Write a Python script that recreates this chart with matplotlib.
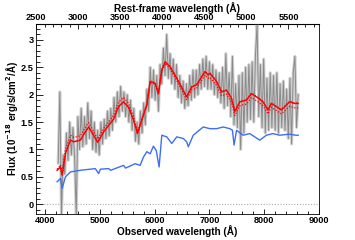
import numpy as np
import matplotlib
matplotlib.use("Agg")
import matplotlib.pyplot as plt
from matplotlib.ticker import MultipleLocator, FuncFormatter

# ---------------- data ----------------
one_plus_z = 1.535

obs_wave = np.arange(4240, 8621, 30)
obs_flux = [
    0.75, 2.05, -0.20, 0.90, 0.55, 1.30, 0.80, 1.50, 0.90, 1.40,
    0.85, -0.20, 1.60, 1.00, 1.75, 1.05, 1.60, 1.10, 1.85, 1.20,
    1.70, 1.00, 1.50, 0.95, 1.35, 0.90, 1.50, 1.10, 1.55, 1.20,
    1.70, 1.25, 1.75, 1.35, 1.95, 1.50, 2.05, 1.60, 2.15, 1.70,
    2.05, 1.60, 2.00, 1.50, 1.90, 1.35, 1.75, 1.15, 1.50, 1.10,
    1.70, 1.30, 1.85, 1.45, 2.10, 1.70, 2.50, 1.95, 2.45, 1.90,
    2.35, 1.70, 2.55, 2.20, 2.85, 2.35, 3.10, 2.30, 2.75, 2.20,
    2.65, 2.10, 2.55, 1.95, 2.35, 1.85, 2.25, 1.75, 2.20, 1.80,
    2.35, 1.90, 2.45, 1.95, 2.45, 2.00, 2.55, 2.10, 2.65, 2.15,
    2.70, 2.10, 2.60, 2.10, 2.55, 2.00, 2.45, 1.95, 2.40, 1.85,
    2.50, 1.75, 2.75, 1.80, 2.40, 1.60, 2.70, 1.45, 2.20, 1.40,
    2.35, 1.00, 2.40, 1.30, 2.50, 1.50, 2.55, 1.55, 2.60, 1.50,
    2.70, 3.30, 1.60, 2.55, 1.40, 2.65, 1.30, 2.30, 1.35, 2.40,
    1.40, 2.35, 1.35, 2.40, 1.30, 2.20, 1.40, 2.25, 1.35, 2.10,
    1.20, 2.30, 1.10, 2.40, 2.70, 1.40, 2.00,
]

model_wave = [4220, 4282, 4313, 4373, 4464, 4524, 4645, 4720, 4796, 4887,
              4960, 5069, 5160, 5250, 5340, 5433, 5524, 5615, 5687, 5767,
              5858, 5918, 6009, 6069, 6131, 6191, 6282, 6404, 6585, 6676,
              6767, 6918, 6978, 7009, 7131, 7222, 7313, 7404, 7464, 7555,
              7676, 7767, 7858, 7978, 8069, 8131, 8222, 8313, 8464, 8555,
              8620]
model_flux = [0.62, 0.68, 0.53, 0.93, 1.17, 1.14, 1.17, 1.30, 1.41, 1.26,
              1.13, 1.32, 1.44, 1.55, 1.78, 1.87, 1.77, 1.54, 1.29, 1.54,
              1.81, 2.24, 2.21, 2.02, 2.45, 2.60, 2.51, 2.30, 1.96, 2.14,
              2.18, 2.42, 2.36, 2.39, 2.24, 2.05, 2.08, 1.93, 1.69, 1.87,
              1.90, 2.02, 1.96, 1.87, 1.72, 1.84, 1.78, 1.72, 1.87, 1.84,
              1.84]
model_upper = [0.64, 0.72, 0.58, 1.00, 1.26, 1.22, 1.25, 1.38, 1.49, 1.33,
               1.19, 1.38, 1.50, 1.62, 1.86, 1.95, 1.84, 1.60, 1.33, 1.57,
               1.83, 2.25, 2.22, 2.03, 2.46, 2.61, 2.52, 2.31, 1.97, 2.15,
               2.19, 2.43, 2.37, 2.40, 2.25, 2.06, 2.09, 1.94, 1.70, 1.88,
               1.91, 2.03, 1.97, 1.88, 1.73, 1.85, 1.79, 1.73, 1.88, 1.85,
               1.85]
model_lower = [0.62, 0.68, 0.53, 0.93, 1.17, 1.14, 1.17, 1.30, 1.41, 1.26,
               1.13, 1.32, 1.44, 1.55, 1.78, 1.87, 1.77, 1.54, 1.29, 1.54,
               1.81, 2.22, 2.19, 2.00, 2.42, 2.57, 2.47, 2.26, 1.91, 2.09,
               2.12, 2.36, 2.30, 2.32, 2.17, 1.98, 2.01, 1.86, 1.62, 1.80,
               1.83, 1.95, 1.89, 1.80, 1.65, 1.77, 1.71, 1.65, 1.79, 1.76,
               1.76]

blue_wave = [4220, 4282, 4313, 4373, 4464, 4645, 4918, 4978, 5010, 5160,
             5200, 5433, 5470, 5645, 5736, 5796, 5858, 5918, 5978, 6030,
             6082, 6131, 6222, 6313, 6404, 6524, 6585, 6615, 6705, 6887,
             7009, 7131, 7251, 7373, 7420, 7450, 7495, 7615, 7736, 7918,
             8040, 8160, 8282, 8464, 8573, 8620]
blue_flux = [0.41, 0.47, 0.29, 0.50, 0.59, 0.62, 0.65, 0.56, 0.64, 0.65,
             0.62, 0.71, 0.66, 0.74, 0.71, 0.86, 0.96, 0.92, 1.06, 0.98,
             0.68, 1.26, 1.23, 1.11, 1.23, 1.20, 1.14, 1.05, 1.26, 1.41,
             1.38, 1.38, 1.41, 1.38, 1.35, 1.08, 1.35, 1.26, 1.29, 1.17,
             1.26, 1.29, 1.26, 1.28, 1.26, 1.26]

top_ticks = [2500, 3000, 3500, 4000, 4500, 5000, 5500]
bottom_ticks = [4000, 5000, 6000, 7000, 8000, 9000]
y_ticks = [0, 0.5, 1, 1.5, 2, 2.5, 3]

# ---------------- plot ----------------
plt.rcParams['font.family'] = ['Liberation Sans', 'DejaVu Sans']
plt.rcParams['font.weight'] = 'bold'

fig = plt.figure(figsize=(3.55, 2.40), dpi=100)
ax = fig.add_axes([0.1006, 0.108, 0.798, 0.794])

ax.axhline(0, color='#aaaaaa', lw=0.8, ls=(0, (1, 1.5)), xmin=0.02, zorder=1)
ax.plot(obs_wave, obs_flux, color='#d0d0d0', lw=2.2, zorder=2)
ax.plot(obs_wave, obs_flux, color='#8a8a8a', lw=0.7, zorder=2)
ax.plot(blue_wave, blue_flux, color='#3d6ef5', lw=1.0, zorder=3)
ax.plot(model_wave, model_upper, color='red', lw=0.9, ls=(0, (1, 1.3)), zorder=4)
ax.plot(model_wave, model_lower, color='red', lw=0.9, ls=(0, (1, 1.3)), zorder=4)
ax.plot(model_wave, model_flux, color='red', lw=1.0, zorder=5)

ax.set_xlim(3830, 9000)
ax.set_ylim(-0.18, 3.30)

ax.set_xticks(bottom_ticks)
ax.xaxis.set_minor_locator(MultipleLocator(200))
ax.set_yticks(y_ticks)
ax.yaxis.set_major_formatter(FuncFormatter(lambda v, p: f"{v:g}"))
ax.yaxis.set_minor_locator(MultipleLocator(0.1))

ax.tick_params(axis='x', which='major', direction='in', length=3.6, width=0.6,
               labelsize=6.6, pad=1.5, top=False)
ax.tick_params(axis='x', which='minor', direction='in', length=2.0, width=0.6, top=False)
ax.tick_params(axis='y', which='major', direction='in', length=5.0, width=0.6,
               labelsize=6.6, pad=1.5, right=False)
ax.tick_params(axis='y', which='minor', direction='in', length=2.8, width=0.6, right=False)
for s in ax.spines.values():
    s.set_linewidth(0.6)

ax.set_xlabel("Observed wavelength (Å)", fontsize=7.2, fontweight='bold', labelpad=0.0)
ax.set_ylabel("Flux (10$^{-18}$ erg/s/cm$^2$/Å)", fontsize=7.0, fontweight='bold', labelpad=0.5)

sec = ax.secondary_xaxis('top', functions=(lambda x: x / one_plus_z, lambda x: x * one_plus_z))
sec.set_xticks(top_ticks)
sec.xaxis.set_minor_locator(MultipleLocator(100))
sec.tick_params(axis='x', which='major', direction='in', length=3.6, width=0.6,
                labelsize=6.6, pad=1.0)
sec.tick_params(axis='x', which='minor', direction='in', length=2.0, width=0.6)
sec.set_xlabel("Rest-frame wavelength (Å)", fontsize=7.2, fontweight='bold', labelpad=1.0)

fig.savefig("out.png", dpi=100)
